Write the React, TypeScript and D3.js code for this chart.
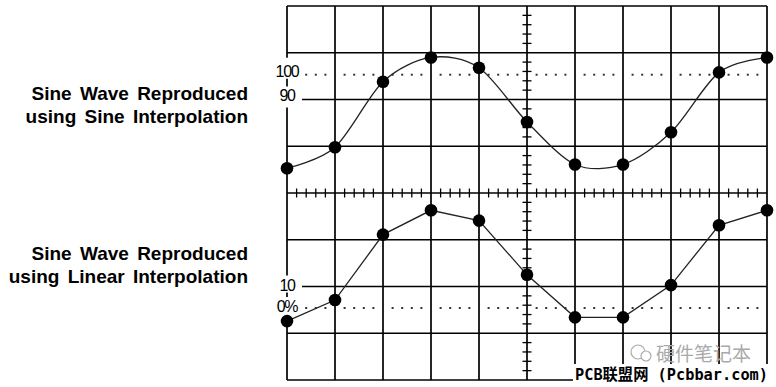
import React, { useEffect, useRef } from "react";
import * as d3 from "d3";

const WIDTH = 776;
const HEIGHT = 387;

// one sample on every major vertical division
const sampleIndex = [0, 1, 2, 3, 4, 5, 6, 7, 8, 9, 10];
// sample heights, in divisions above the trace baseline
const sampleValues = [0.53, 0.98, 2.38, 2.9, 2.68, 1.52, 0.61, 0.61, 1.3, 2.58, 2.9];

// trace baselines, in grid rows from the top
const traceBase = [4, 7.27];

const titleTop = ["Sine Wave Reproduced", "using Sine Interpolation"];
const titleBottom = ["Sine Wave Reproduced", "using Linear Interpolation"];

// reference levels at the left edge (grid rows from the top)
const levelLabels = ["100", "90", "10", "0%"];
const levelRows = [1.47, 2, 6, 6.46];
const levelDotted = [true, false, false, true];

export default function App() {
  const ref = useRef<SVGSVGElement>(null);

  useEffect(() => {
    const svg = d3.select(ref.current);
    svg.selectAll("*").remove();

    const x = d3.scaleLinear().domain([0, 10]).range([287, 767]);
    const y = d3.scaleLinear().domain([0, 8]).range([6, 380]);

    const g = svg.append("g");

    // grid
    g.selectAll("line.v")
      .data(d3.range(0, 11))
      .enter()
      .append("line")
      .attr("x1", (d) => x(d))
      .attr("x2", (d) => x(d))
      .attr("y1", y(0))
      .attr("y2", y(8))
      .attr("stroke", "#000")
      .attr("stroke-width", 1.7);
    g.selectAll("line.h")
      .data(d3.range(0, 9))
      .enter()
      .append("line")
      .attr("x1", x(0))
      .attr("x2", x(10))
      .attr("y1", (d) => y(d))
      .attr("y2", (d) => y(d))
      .attr("stroke", "#000")
      .attr("stroke-width", 1.7);

    // minor ticks on the centre axes
    const minorX = d3.range(1, 50).filter((i) => i % 5 !== 0);
    g.selectAll("line.tx")
      .data(minorX)
      .enter()
      .append("line")
      .attr("x1", (d) => x(d / 5))
      .attr("x2", (d) => x(d / 5))
      .attr("y1", y(4) - 4.5)
      .attr("y2", y(4) + 4.5)
      .attr("stroke", "#000")
      .attr("stroke-width", 1.3);
    const minorY = d3.range(1, 40).filter((i) => i % 5 !== 0);
    g.selectAll("line.ty")
      .data(minorY)
      .enter()
      .append("line")
      .attr("x1", x(5) - 4.5)
      .attr("x2", x(5) + 4.5)
      .attr("y1", (d) => y(d / 5))
      .attr("y2", (d) => y(d / 5))
      .attr("stroke", "#000")
      .attr("stroke-width", 1.3);

    // dotted reference levels
    levelRows.forEach((row, k) => {
      if (!levelDotted[k]) return;
      g.selectAll("rect.dot" + k)
        .data(minorX)
        .enter()
        .append("rect")
        .attr("x", (d) => x(d / 5) - 1)
        .attr("y", y(row) - 1)
        .attr("width", 2)
        .attr("height", 2)
        .attr("fill", "#333");
    });

    // level labels with white backing over the left border
    const boxTop = [-17, -13, -11, -11];
    const boxBottom = [4, 8, 6, 7];
    const baseOff = [2, 1, 4, 4];
    levelRows.forEach((row, k) => {
      g.append("rect")
        .attr("x", 271)
        .attr("y", y(row) + boxTop[k])
        .attr("width", 31)
        .attr("height", boxBottom[k] - boxTop[k])
        .attr("fill", "#fff");
      g.append("text")
        .attr("x", x(0))
        .attr("y", y(row) + baseOff[k])
        .attr("text-anchor", "middle")
        .attr("font-family", "Liberation Sans, Arial, sans-serif")
        .attr("font-size", 16)
        .attr("letter-spacing", -1.3)
        .attr("fill", "#000")
        .text(levelLabels[k]);
    });

    // traces
    const curves = [d3.curveCardinal.tension(0.1), d3.curveLinear];
    traceBase.forEach((base, t) => {
      const line = d3
        .line<number>()
        .x((d) => x(sampleIndex[d]))
        .y((d) => y(base - sampleValues[d]))
        .curve(curves[t]);
      g.append("path")
        .attr("d", line(sampleIndex))
        .attr("fill", "none")
        .attr("stroke", "#222")
        .attr("stroke-width", 1.3);
      g.selectAll("circle.p" + t)
        .data(sampleIndex)
        .enter()
        .append("circle")
        .attr("cx", (d) => x(d))
        .attr("cy", (d) => y(base - sampleValues[d]))
        .attr("r", 6.3)
        .attr("fill", "#000");
    });

    // titles on the left
    const titles = [titleTop, titleBottom];
    const titleY = [100, 260];
    titles.forEach((lines, t) => {
      lines.forEach((s, i) => {
        g.append("text")
          .attr("x", 248)
          .attr("y", titleY[t] + i * 23)
          .attr("text-anchor", "end")
          .attr("font-family", "Liberation Sans, Arial, sans-serif")
          .attr("font-weight", "bold")
          .attr("font-size", 19)
          .attr("word-spacing", 3)
          .attr("fill", "#000")
          .text(s);
      });
    });

    // watermark
    g.append("circle")
      .attr("cx", 638)
      .attr("cy", 352)
      .attr("r", 7)
      .attr("fill", "none")
      .attr("stroke", "#aaa")
      .attr("stroke-width", 1.2);
    g.append("circle")
      .attr("cx", 646)
      .attr("cy", 356)
      .attr("r", 5)
      .attr("fill", "#fff")
      .attr("stroke", "#aaa")
      .attr("stroke-width", 1.2);
    g.append("text")
      .attr("x", 656)
      .attr("y", 361)
      .attr("font-family", "Noto Sans CJK SC, sans-serif")
      .attr("font-size", 19)
      .attr("fill", "#aaa")
      .text("硬件笔记本");
    g.append("rect")
      .attr("x", 573)
      .attr("y", 364)
      .attr("width", 200)
      .attr("height", 23)
      .attr("fill", "#fff");
    g.append("text")
      .attr("x", 575)
      .attr("y", 380)
      .attr("font-family", "DejaVu Sans Mono, Noto Sans CJK SC, monospace")
      .attr("font-weight", "bold")
      .attr("font-size", 16)
      .attr("textLength", 193)
      .attr("lengthAdjust", "spacingAndGlyphs")
      .attr("fill", "#000")
      .text("PCB联盟网 (Pcbbar.com)");
  }, []);

  return (
    <svg
      ref={ref}
      width={WIDTH}
      height={HEIGHT}
      style={{ position: "fixed", left: 0, top: 0, background: "#fff" }}
    />
  );
}
